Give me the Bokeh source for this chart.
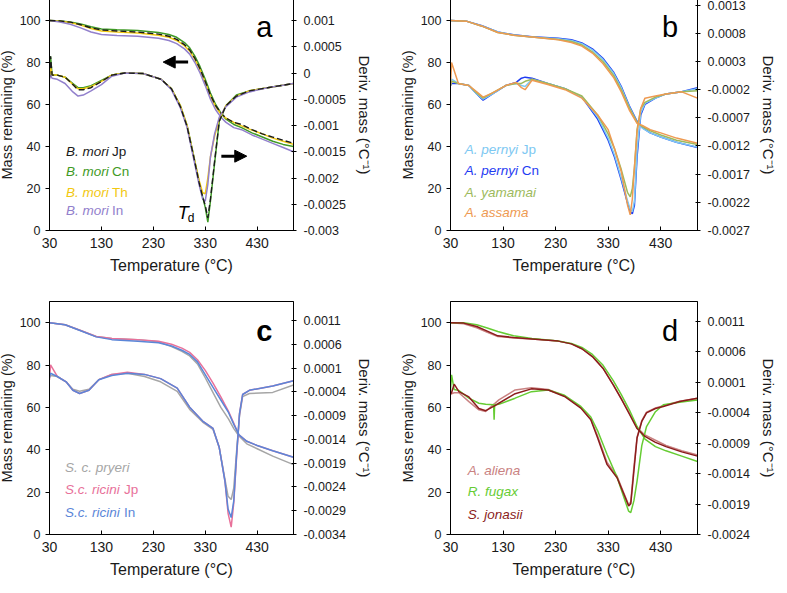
from bokeh.plotting import figure
from bokeh.models import (Range1d, LinearAxis, FixedTicker, CustomJSTickFormatter,
                          Label, Arrow, NormalHead)
from bokeh.layouts import column, row
from bokeh.embed import file_html
from bokeh.resources import INLINE

FONT = "Liberation Sans"

# ---------------- common ticks ----------------
temp_ticks = [30, 130, 230, 330, 430]
mass_ticks = [0, 20, 40, 60, 80, 100]

# ---------------- panel a : B. mori ----------------
a_tga_T = [30, 50, 70, 90, 110, 130, 160, 200, 240, 260, 275, 290, 300, 310, 320, 330, 340, 350, 360, 370, 385, 400, 420, 440, 460, 480, 500]
a_tga_jp = [100, 99.8, 99.2, 98, 96.5, 95.5, 95, 94.5, 93.5, 92.5, 91, 88.5, 86, 82, 77, 71, 64.5, 59.5, 56, 53.5, 51.5, 50.5, 48, 46, 44.5, 43, 41.5]
a_tga_cn = [100, 99.8, 99.3, 98.3, 97, 96, 95.6, 95.2, 94.3, 93.3, 92, 89.5, 87, 83, 78, 72, 65.5, 60, 56, 53, 50.5, 49, 46.5, 44.5, 42.5, 41, 40]
a_tga_th = [100, 99.7, 99, 97.8, 96.2, 95, 94.5, 94, 93, 92, 90.5, 88, 85.5, 81.5, 76.5, 70.5, 64, 59, 55.5, 53.5, 51.5, 49.8, 47.8, 46, 44, 42.5, 41]
a_tga_in = [100, 99.3, 98.2, 96.5, 94.5, 93.3, 92.8, 92.5, 91.5, 90.5, 89, 86.5, 84, 80, 75, 69, 62.5, 57.5, 54, 51.5, 49, 48, 45.5, 43.5, 41.5, 39.5, 37.5]

a_dtg_T = [30, 32, 35, 45, 60, 75, 85, 95, 110, 130, 150, 175, 210, 245, 265, 282, 295, 307, 318, 325, 330, 335, 340, 348, 357, 370, 390, 415, 450, 500]
a_dtg_jp = [-0.00008, 0.00032, -0.00004, -0.00004, -0.00008, -0.00022, -0.00032, -0.00032, -0.00028, -0.00016, -0.00004, 0, -0.00001, -0.00012, -0.0003, -0.00064, -0.00102, -0.00156, -0.00208, -0.00236, -0.00252, -0.00276, -0.0024, -0.00168, -0.00092, -0.00062, -0.00044, -0.00034, -0.00028, -0.0002]
a_dtg_cn = [-0.00008, 0.00032, -0.00004, -0.00004, -0.00008, -0.0002, -0.00028, -0.00028, -0.00024, -0.00014, -0.00004, 0, -0.00001, -0.00012, -0.0003, -0.00062, -0.001, -0.00154, -0.00206, -0.00236, -0.00256, -0.00284, -0.00244, -0.00172, -0.00092, -0.00062, -0.00042, -0.00034, -0.00028, -0.0002]
a_dtg_th = [-0.00008, 0.00012, -0.00004, -0.00004, -0.00008, -0.00022, -0.0003, -0.0003, -0.00026, -0.00016, -0.00004, 0, -0.00001, -0.00012, -0.0003, -0.00062, -0.001, -0.00156, -0.00204, -0.00228, -0.0023, -0.002, -0.0016, -0.0012, -0.00088, -0.00062, -0.00044, -0.00034, -0.00028, -0.0002]
a_dtg_in = [-0.00012, -0.00004, -0.0001, -0.00012, -0.0002, -0.00036, -0.00044, -0.00042, -0.00034, -0.00022, -0.00006, 0, -0.00001, -0.00012, -0.00032, -0.00066, -0.00104, -0.0016, -0.00212, -0.0024, -0.00244, -0.00212, -0.0016, -0.00116, -0.00084, -0.00064, -0.00046, -0.00036, -0.00028, -0.0002]
a_deriv_ticks = [-0.003, -0.0025, -0.002, -0.0015, -0.001, -0.0005, 0, 0.0005, 0.001]

# ---------------- panel b : Antheraea ----------------
b_tga_T = [30, 60, 90, 120, 150, 185, 235, 260, 280, 300, 320, 340, 355, 370, 385, 395, 410, 430, 460, 500]
b_tga_pjp = [100, 99.7, 97.4, 94.5, 93.1, 92.2, 91.3, 90.5, 89, 86, 81.5, 75, 68, 59, 51.5, 48.8, 46.5, 44.5, 42, 39.7]
b_tga_pcn = [100, 99.7, 97.5, 94.5, 93.2, 92.3, 91.5, 90.8, 89.3, 86.5, 82, 75.5, 68.5, 59.5, 52, 49, 46.5, 44.5, 42, 39.5]
b_tga_yam = [100, 99.7, 97.3, 94.3, 93, 92.2, 91, 90, 88.3, 85, 80.5, 74, 67, 58.5, 51.5, 49.5, 47.5, 45.5, 43, 41]
b_tga_ass = [100, 99.7, 97.3, 94.3, 93, 92.2, 90.8, 89.5, 87.8, 84.5, 79.5, 73, 66, 57.5, 51, 50, 48, 46.5, 44, 41.5]

b_dtg_T = [30, 32, 45, 65, 80, 92, 110, 135, 155, 165, 172, 185, 215, 248, 280, 310, 330, 342, 355, 367, 372, 376, 380, 385, 392, 400, 420, 440, 470, 500]
b_dtg_pjp = [-0.000127, -0.000015, -0.00009, -0.000127, -0.000276, -0.000369, -0.000276, -0.000127, -0.00009, -0.000127, -0.000145, -0.000015, -0.00009, -0.000183, -0.000332, -0.000686, -0.001059, -0.001358, -0.001768, -0.002178, -0.002328, -0.002365, -0.002178, -0.001283, -0.000612, -0.000444, -0.000351, -0.000276, -0.000239, -0.000183]
b_dtg_pcn = [-0.000127, -0.00009, -0.00009, -0.000127, -0.000276, -0.000388, -0.000276, -0.000127, -0.000071, 0.000004, 0.000022, 0.000004, -0.00009, -0.000183, -0.000332, -0.000724, -0.001097, -0.001395, -0.001805, -0.002216, -0.002365, -0.002402, -0.002253, -0.001395, -0.000649, -0.000463, -0.000351, -0.000276, -0.000239, -0.000164]
b_dtg_yam = [-0.000127, -0.000052, -0.00009, -0.000127, -0.000257, -0.000351, -0.000257, -0.000127, -0.00009, -0.00009, -0.000052, -0.000015, -0.00009, -0.000183, -0.000313, -0.000649, -0.000985, -0.001246, -0.001619, -0.002029, -0.002104, -0.001955, -0.001582, -0.00091, -0.000537, -0.000425, -0.000332, -0.000276, -0.000239, -0.00022]
b_dtg_ass = [-0.000127, 0.000283, -0.00009, -0.000127, -0.000239, -0.000332, -0.000257, -0.000127, -0.000071, -0.000164, -0.000201, -0.000034, -0.000108, -0.000201, -0.000351, -0.000649, -0.00091, -0.001246, -0.001656, -0.002253, -0.002421, -0.002141, -0.001582, -0.000947, -0.000537, -0.000351, -0.000313, -0.000276, -0.000239, -0.000351]
b_deriv_ticks = [-0.0027, -0.0022, -0.0017, -0.0012, -0.0007, -0.0002, 0.0003, 0.0008, 0.0013]

# ---------------- panel c : Samia ----------------
c_tga_T = [30, 60, 90, 120, 150, 200, 240, 265, 285, 300, 315, 330, 345, 360, 375, 385, 395, 410, 430, 460, 500]
c_tga_pry = [100, 99, 96.3, 93.5, 92.5, 92, 91, 88.7, 86.5, 84.3, 80.5, 74, 67, 60, 54.5, 50, 46.5, 42.8, 40.5, 37, 33]
c_tga_rjp = [100, 99, 96.3, 93.5, 92.5, 92, 91.2, 89.8, 88, 86, 82.5, 77.5, 71.5, 65, 58, 52.5, 47, 44, 42, 39.5, 36.5]
c_tga_rin = [100, 99, 96.2, 93.3, 92, 91.2, 90.5, 89, 87, 85, 81.5, 75.5, 69.5, 63.5, 57.5, 52, 47, 44, 42, 39.5, 36.5]

c_dtg_T = [30, 32, 45, 62, 75, 88, 106, 125, 150, 180, 213, 244, 276, 300, 325, 345, 357, 368, 374, 380, 385, 390, 396, 402, 415, 460, 500]
c_dtg_pry = [-0.000099, -0.000055, -0.000077, -0.000189, -0.000345, -0.000389, -0.000345, -0.000144, -0.000033, -0.00001, -0.000077, -0.000189, -0.000389, -0.000768, -0.001036, -0.001192, -0.001571, -0.00224, -0.002597, -0.002664, -0.002419, -0.001705, -0.000902, -0.000501, -0.000434, -0.000412, -0.000256]
c_dtg_rjp = [-0.000144, 0.000168, -0.000077, -0.000189, -0.000367, -0.000434, -0.000367, -0.000144, -0.000033, 0.000012, -0.000033, -0.000122, -0.000322, -0.000724, -0.001014, -0.00117, -0.001571, -0.002285, -0.002954, -0.003244, -0.002731, -0.001839, -0.000858, -0.000456, -0.000367, -0.000278, -0.000166]
c_dtg_rin = [-0.000099, -0.00001, -0.000077, -0.000189, -0.000367, -0.000434, -0.000367, -0.000144, -0.000055, -0.00001, -0.000033, -0.000122, -0.000322, -0.000724, -0.001014, -0.00117, -0.001571, -0.002285, -0.002865, -0.003043, -0.002686, -0.001794, -0.000858, -0.000456, -0.000367, -0.000278, -0.000166]
c_deriv_ticks = [-0.0034, -0.0029, -0.0024, -0.0019, -0.0014, -0.0009, -0.0004, 0.0001, 0.0006, 0.0011]

# ---------------- panel d : other wild silks ----------------
d_tga_T = [30, 55, 80, 100, 120, 150, 185, 235, 260, 280, 300, 320, 340, 355, 370, 385, 400, 420, 440, 470, 500]
d_tga_ali = [100, 99.5, 97.6, 95.5, 93.5, 92.8, 92.3, 91.3, 90, 87.7, 84, 78.5, 70.5, 64, 57.5, 50.5, 47, 44.5, 42, 39.5, 37.5]
d_tga_fug = [100, 100, 99, 97.5, 95.8, 93.8, 92.5, 91.3, 90.2, 88.3, 85, 80, 72.5, 66, 59, 51, 45, 41.5, 39.5, 37, 34.5]
d_tga_jon = [100, 99.8, 98.2, 96, 93.8, 93, 92.3, 91.3, 90, 87.7, 84, 78.5, 70.5, 64, 57, 50, 46.3, 43.5, 41.5, 39, 37]

d_dtg_T = [30, 32, 37, 46, 65, 84, 97, 112, 113, 114, 122, 153, 184, 216, 247, 278, 297, 310, 328, 347, 360, 369, 373, 379, 385, 394, 403, 420, 435, 466, 500]
d_dtg_ali = [-0.00011, -0.000092, -0.000075, -0.000075, -0.000221, -0.000356, -0.000384, -0.000266, -0.000259, -0.000255, -0.000193, -0.00003, 0.000005, -0.000023, -0.000127, -0.000318, -0.000509, -0.000786, -0.00122, -0.001446, -0.001723, -0.001914, -0.001862, -0.001289, -0.000804, -0.000533, -0.000394, -0.000325, -0.00029, -0.000214, -0.000165]
d_dtg_fug = [-0.00004, 0.000217, -0.000023, -0.00004, -0.000165, -0.000248, -0.000266, -0.000273, -0.000519, -0.000273, -0.000266, -0.000165, -0.000058, -0.00003, -0.000117, -0.0003, -0.000474, -0.0007, -0.001088, -0.001463, -0.001793, -0.002018, -0.002042, -0.001845, -0.001525, -0.000942, -0.00063, -0.000387, -0.000273, -0.000231, -0.000193]
d_dtg_jon = [-0.000092, -0.000075, 0.000064, -0.000058, -0.000144, -0.000335, -0.00037, -0.0003, -0.000294, -0.00029, -0.000248, -0.000092, -0.000012, -0.00003, -0.000137, -0.000328, -0.000519, -0.000818, -0.001255, -0.00147, -0.001741, -0.001931, -0.001897, -0.001359, -0.000818, -0.000547, -0.000405, -0.000335, -0.0003, -0.000221, -0.000165]
d_deriv_ticks = [-0.0024, -0.0019, -0.0014, -0.0009, -0.0004, 0.0001, 0.0006, 0.0011]

FMT = CustomJSTickFormatter(code="return (Math.round(tick*10000)/10000).toString();")
TXT = "#1a1a1a"


def make_panel(width, height, bl, br, bt, bb, d_lo, d_hi, d_ticks):
    p = figure(width=width, height=height, output_backend="svg", toolbar_location=None,
               x_range=Range1d(30, 500), y_range=Range1d(0, 110),
               min_border_left=bl, min_border_right=br, min_border_top=bt, min_border_bottom=bb,
               background_fill_color="white", border_fill_color="white")
    p.extra_y_ranges = {"d": Range1d(d_lo, d_hi)}
    p.xgrid.visible = False
    p.ygrid.visible = False
    p.outline_line_color = "black"
    p.outline_line_width = 1
    p.outline_line_alpha = 1

    xa = p.xaxis[0]
    xa.ticker = FixedTicker(ticks=temp_ticks)
    xa.axis_label = "Temperature (°C)"
    xa.major_tick_in = 4
    xa.major_tick_out = 0
    xa.minor_tick_line_color = None
    xa.major_label_standoff = 7
    xa.axis_label_standoff = 6
    xa.major_label_text_font = FONT
    xa.major_label_text_font_size = "14px"
    xa.major_label_text_color = TXT
    xa.axis_label_text_font = FONT
    xa.axis_label_text_font_size = "16px"
    xa.axis_label_text_font_style = "normal"
    xa.axis_label_text_color = TXT
    xa.axis_line_color = "black"

    ya = p.yaxis[0]
    ya.ticker = FixedTicker(ticks=mass_ticks)
    ya.axis_label = "Mass remaining (%)"
    ya.major_tick_in = 0
    ya.major_tick_out = 4
    ya.minor_tick_line_color = None
    ya.major_label_standoff = 5
    ya.axis_label_standoff = 2
    ya.major_label_text_font = FONT
    ya.major_label_text_font_size = "12.5px"
    ya.major_label_text_color = TXT
    ya.axis_label_text_font = FONT
    ya.axis_label_text_font_size = "14.5px"
    ya.axis_label_text_font_style = "normal"
    ya.axis_label_text_color = TXT
    ya.axis_line_color = "black"

    ra = LinearAxis(y_range_name="d", ticker=FixedTicker(ticks=d_ticks), formatter=FMT,
                    axis_label="Deriv. mass (°C⁻¹)")
    ra.major_tick_in = 2
    ra.major_tick_out = 3
    ra.minor_tick_line_color = None
    ra.major_label_standoff = 7
    ra.axis_label_standoff = 7
    ra.major_label_text_font = FONT
    ra.major_label_text_font_size = "12.5px"
    ra.major_label_text_color = TXT
    ra.axis_label_text_font = FONT
    ra.axis_label_text_font_size = "15px"
    ra.axis_label_text_font_style = "normal"
    ra.axis_label_text_color = TXT
    ra.axis_line_color = "black"
    p.add_layout(ra, "right")
    return p


def legend(p, x, y, parts, size="13.5px"):
    # parts: list of (italic_text, normal_text, color, offset)
    for i, (it, nt, col, off) in enumerate(parts):
        p.add_layout(Label(x=x, y=y[i], text=it, text_font=FONT, text_font_size=size,
                           text_font_style="italic", text_color=col, text_baseline="middle"))
        if nt:
            p.add_layout(Label(x=x, y=y[i], x_offset=off, text=nt, text_font=FONT,
                               text_font_size=size, text_color=col, text_baseline="middle"))


def letter(p, x, y, t, style="normal"):
    p.add_layout(Label(x=x, y=y, text=t, text_font=FONT, text_font_size="29px",
                       text_font_style=style, text_color="black", text_align="center",
                       text_baseline="middle"))


# ---------------- build panel a ----------------
C_A = {"jp": "#1a1a1a", "cn": "#3f9a26", "th": "#f2c811", "in": "#9280cc"}
pa = make_panel(397, 286, 47, 99, 3, 52, -0.003, 0.0014, a_deriv_ticks)
pa.line(a_tga_T, a_tga_cn, color=C_A["cn"], line_width=1.5)
pa.line(a_tga_T, a_tga_th, color=C_A["th"], line_width=1.5)
pa.line(a_tga_T, a_tga_in, color=C_A["in"], line_width=1.5)
pa.line(a_tga_T, a_tga_jp, color=C_A["jp"], line_width=1.4, line_dash="6 3")
pa.line(a_dtg_T, a_dtg_cn, color=C_A["cn"], line_width=1.5, y_range_name="d")
pa.line(a_dtg_T, a_dtg_th, color=C_A["th"], line_width=1.5, y_range_name="d")
pa.line(a_dtg_T, a_dtg_in, color=C_A["in"], line_width=1.5, y_range_name="d")
pa.line(a_dtg_T, a_dtg_jp, color=C_A["jp"], line_width=1.4, line_dash="6 3", y_range_name="d")
letter(pa, 444, 97, "a")
legend(pa, 62, [37.7, 28.3, 17.9, 9.4], [
    ("B. mori", "Jp", C_A["jp"], 46),
    ("B. mori", "Cn", C_A["cn"], 46),
    ("B. mori", "Th", C_A["th"], 46),
    ("B. mori", "In", C_A["in"], 46),
])
pa.add_layout(Label(x=277, y=8.5, text="T", text_font=FONT, text_font_size="18px",
                    text_font_style="italic", text_color="black", text_baseline="middle"))
pa.add_layout(Label(x=277, y=8.5, x_offset=10, y_offset=-5, text="d", text_font=FONT,
                    text_font_size="12px", text_color="black", text_baseline="middle"))
pa.add_layout(Arrow(x_start=297, y_start=80.2, x_end=249, y_end=80.2, line_width=3,
                    line_color="black",
                    end=NormalHead(size=12, fill_color="black", line_color="black")))
pa.add_layout(Arrow(x_start=361, y_start=35.4, x_end=410, y_end=35.4, line_width=3,
                    line_color="black",
                    end=NormalHead(size=12, fill_color="black", line_color="black")))

# ---------------- build panel b ----------------
C_B = {"pjp": "#7dc8f2", "pcn": "#1f3cf2", "yam": "#9dba5c", "ass": "#ee9a52"}
pb = make_panel(387, 286, 58, 81, 3, 52, -0.0027, 0.0014, b_deriv_ticks)
for Tt, ys, Td, ds, c in [(b_tga_T, b_tga_pcn, b_dtg_T, b_dtg_pcn, C_B["pcn"]),
                          (b_tga_T, b_tga_pjp, b_dtg_T, b_dtg_pjp, C_B["pjp"]),
                          (b_tga_T, b_tga_yam, b_dtg_T, b_dtg_yam, C_B["yam"]),
                          (b_tga_T, b_tga_ass, b_dtg_T, b_dtg_ass, C_B["ass"])]:
    pb.line(Tt, ys, color=c, line_width=1.5)
    pb.line(Td, ds, color=c, line_width=1.5, y_range_name="d")
letter(pb, 448, 97, "b")
legend(pb, 57, [38.4, 28.6, 18.3, 8.4], [
    ("A. pernyi", "Jp", C_B["pjp"], 57),
    ("A. pernyi", "Cn", C_B["pcn"], 57),
    ("A. yamamai", "", C_B["yam"], 0),
    ("A. assama", "", C_B["ass"], 0),
])

# ---------------- build panel c ----------------
C_C = {"pry": "#a6a6a6", "rjp": "#e8719a", "rin": "#5b86d8"}
pc = make_panel(397, 302, 47, 99, 19, 50, -0.0034, 0.0015, c_deriv_ticks)
for Tt, ys, Td, ds, c in [(c_tga_T, c_tga_pry, c_dtg_T, c_dtg_pry, C_C["pry"]),
                          (c_tga_T, c_tga_rjp, c_dtg_T, c_dtg_rjp, C_C["rjp"]),
                          (c_tga_T, c_tga_rin, c_dtg_T, c_dtg_rin, C_C["rin"])]:
    pc.line(Tt, ys, color=c, line_width=1.5)
    pc.line(Td, ds, color=c, line_width=1.5, y_range_name="d")
letter(pc, 444, 96, "c", "bold")
legend(pc, 60, [31.5, 21.3, 10.3], [
    ("S. c. pryeri", "", C_C["pry"], 0),
    ("S.c. ricini", "Jp", C_C["rjp"], 59),
    ("S.c. ricini", "In", C_C["rin"], 59),
])

# ---------------- build panel d ----------------
C_D = {"ali": "#c98282", "fug": "#66cc33", "jon": "#8b1c1c"}
pd_ = make_panel(387, 302, 58, 81, 19, 50, -0.0024, 0.00142, d_deriv_ticks)
for Tt, ys, Td, ds, c in [(d_tga_T, d_tga_ali, d_dtg_T, d_dtg_ali, C_D["ali"]),
                          (d_tga_T, d_tga_fug, d_dtg_T, d_dtg_fug, C_D["fug"]),
                          (d_tga_T, d_tga_jon, d_dtg_T, d_dtg_jon, C_D["jon"])]:
    pd_.line(Tt, ys, color=c, line_width=1.5)
    pd_.line(Td, ds, color=c, line_width=1.5, y_range_name="d")
letter(pd_, 448, 96, "d")
legend(pd_, 62.6, [30, 20.2, 9.4], [
    ("A. aliena", "", C_D["ali"], 0),
    ("R. fugax", "", C_D["fug"], 0),
    ("S. jonasii", "", C_D["jon"], 0),
])

layout = column(row(pa, pb), row(pc, pd_), margin=(-4, 0, -12, -5))
open("out.html", "w").write(file_html(layout, INLINE))
